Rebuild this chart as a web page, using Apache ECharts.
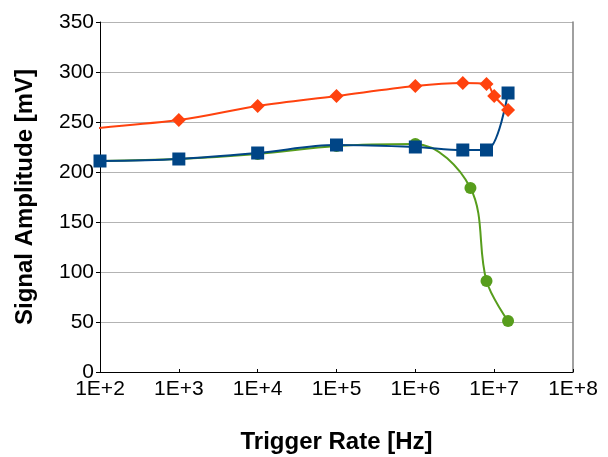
<!DOCTYPE html>
<html>
<head>
<meta charset="utf-8">
<script src="https://cdn.jsdelivr.net/npm/echarts@6/dist/echarts.min.js"></script>
<style>html,body{margin:0;padding:0;background:#fff;}#c{width:608px;height:457px;}</style>
</head>
<body>
<div id="c"></div>
<script>
// Data (x in Hz, y in mV)
var blueX = [1e2, 1e3, 1e4, 1e5, 1e6, 4e6, 8e6, 1.5e7];
var blueY = [211, 213, 219, 227, 225, 222, 222, 279];
var orangeX = [1e1, 1e3, 1e4, 1e5, 1e6, 4e6, 8e6, 1e7, 1.5e7];
var orangeY = [238, 252, 266, 276, 286, 289, 288, 276, 262];
var greenX = [1e2, 1e3, 1e4, 1e5, 1e6, 5e6, 8e6, 1.5e7];
var greenY = [211, 213, 218, 226, 228, 184, 91, 51];
var xTickLabels = ['1E+2', '1E+3', '1E+4', '1E+5', '1E+6', '1E+7', '1E+8'];
var yTicks = [0, 50, 100, 150, 200, 250, 300, 350];

function pairs(xs, ys) { return xs.map(function (x, i) { return [x, ys[i]]; }); }

var FONT = '"Liberation Sans", Arial, sans-serif';
var chart = echarts.init(document.getElementById('c'), null, { renderer: 'canvas' });
chart.setOption({
  animation: false,
  backgroundColor: '#ffffff',
  grid: { left: 100, right: 35, top: 22, bottom: 85, containLabel: false, outerBoundsMode: 'none' },
  xAxis: {
    type: 'log', logBase: 10, min: 1e2, max: 1e8, interval: 1,
    name: 'Trigger Rate [Hz]', nameLocation: 'middle', nameGap: 58,
    nameTextStyle: { fontFamily: FONT, fontSize: 24, fontWeight: 'bold', color: '#000' },
    axisLine: { show: true, onZero: false, lineStyle: { color: '#000', width: 1 } },
    axisTick: { show: true, inside: true, length: 3, lineStyle: { color: '#000' } },
    minorTick: { show: false },
    splitLine: { show: false },
    axisLabel: {
      fontFamily: FONT, fontSize: 21, color: '#000', margin: 7,
      formatter: function (v) { var e = Math.round(Math.log10(v)); return xTickLabels[e - 2] || ''; }
    }
  },
  yAxis: [{
    type: 'value', min: yTicks[0], max: yTicks[yTicks.length - 1], interval: 50,
    name: 'Signal Amplitude [mV]', nameLocation: 'middle', nameGap: 63, nameRotate: 90,
    nameTextStyle: { fontFamily: FONT, fontSize: 24, fontWeight: 'bold', color: '#000' },
    axisLine: { show: true, lineStyle: { color: '#000', width: 1 } },
    axisTick: { show: true, inside: false, length: 4, lineStyle: { color: '#000' } },
    splitLine: { show: true, lineStyle: { color: '#b3b3b3', width: 1 } },
    axisLabel: { fontFamily: FONT, fontSize: 21, color: '#000', margin: 6 }
  }, {
    type: 'value', min: 0, max: 350, position: 'right',
    axisLine: { show: true, lineStyle: { color: '#808080', width: 1.5 } },
    axisTick: { show: false }, axisLabel: { show: false }, splitLine: { show: false }
  }],
  series: [
    {
      type: 'line', data: pairs(greenX, greenY), smooth: 0.35, clip: false,
      symbol: 'circle', symbolSize: 12,
      lineStyle: { color: '#579d1c', width: 2 }, itemStyle: { color: '#579d1c' }
    },
    {
      type: 'line', data: pairs(blueX, blueY), smooth: 0.35, clip: false,
      symbol: 'rect', symbolSize: 13,
      lineStyle: { color: '#004586', width: 2 }, itemStyle: { color: '#004586' }
    },
    {
      type: 'line', data: pairs(orangeX, orangeY), smooth: 0.35, clip: true,
      symbol: 'diamond', symbolSize: 14,
      lineStyle: { color: '#ff420e', width: 2 }, itemStyle: { color: '#ff420e' }
    }
  ]
});
</script>
</body>
</html>
